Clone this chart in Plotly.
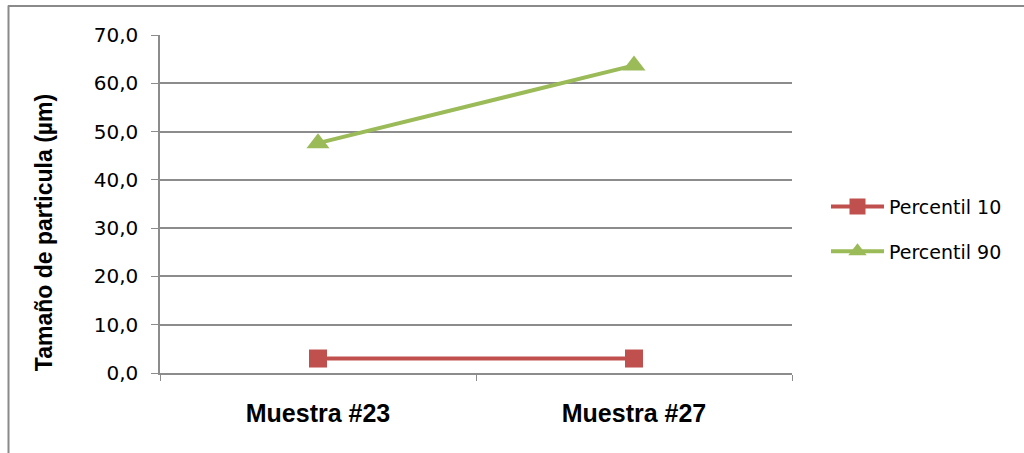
import plotly.graph_objects as go

# data
muestras = ["Muestra #23", "Muestra #27"]
percentil_10 = [3.0, 3.0]
percentil_90 = [47.6, 63.7]

y_ticks = [0, 10, 20, 30, 40, 50, 60, 70]

red = "#C0504D"
green = "#9BBB59"
grid = "#8c8c8c"

fig = go.Figure()
fig.add_trace(go.Scatter(
    x=muestras, y=percentil_10, name="Percentil 10", mode="lines+markers",
    legendgroup="p10",
    line=dict(color=red, width=4),
    marker=dict(symbol="square", size=18, color=red)
))
fig.add_trace(go.Scatter(
    x=muestras, y=percentil_90, name="Percentil 90", mode="lines+markers",
    legendgroup="p90",
    line=dict(color=green, width=4),
    marker=dict(symbol="triangle-up", size=20, color=green)
))

# page pixel -> paper coords (plot area is 160..792 x 34.5..373)
px2x = lambda px: (px - 160) / 632
py2y = lambda py: (373 - py) / 338.5

# outer chart border (top and left only visible in the reference)
fig.add_shape(type="line", xref="paper", yref="paper",
              x0=px2x(8), x1=px2x(1030), y0=py2y(5.5), y1=py2y(5.5),
              line=dict(color="#8a8a8a", width=2))
fig.add_shape(type="line", xref="paper", yref="paper",
              x0=px2x(8.5), x1=px2x(8.5), y0=py2y(5), y1=py2y(460),
              line=dict(color="#8a8a8a", width=2))

fig.add_annotation(
    text="<b>Tamaño de particula (µm)</b>", textangle=-90,
    xref="paper", yref="paper", x=px2x(44), y=py2y(233),
    xanchor="center", yanchor="middle",
    showarrow=False, font=dict(family="Liberation Sans, Arial", size=23, color="black")
)

fig.update_layout(
    width=1024, height=453,
    margin=dict(l=160, r=232, t=34.5, b=80),
    paper_bgcolor="white", plot_bgcolor="white",
    separators=",.",
    showlegend=True,
    legend=dict(
        x=px2x(826), y=py2y(229), xanchor="left", yanchor="middle",
        font=dict(family="DejaVu Sans", size=19, color="black"),
        itemwidth=53, traceorder="grouped", tracegroupgap=17
    ),
    xaxis=dict(
        type="category", range=[-0.5, 1.5], tickson="boundaries",
        ticks="outside", ticklen=6, tickcolor=grid,
        showline=True, linecolor=grid, linewidth=1.5,
        showgrid=False, zeroline=False,
        tickfont=dict(family="Liberation Sans, Arial", size=25, color="black"),
        ticktext=["<b>" + m + "</b>" for m in muestras], tickvals=muestras,
        ticklabelstandoff=17
    ),
    yaxis=dict(
        range=[0, 70], tickvals=y_ticks, tickformat=".1f",
        ticks="outside", ticklen=7, tickcolor=grid,
        showline=True, linecolor=grid, linewidth=1.5,
        showgrid=True, gridcolor=grid, gridwidth=1.5, zeroline=False,
        tickfont=dict(family="DejaVu Sans", size=20, color="black"),
        ticklabelstandoff=9
    ),
)

fig.write_html("out.html", config={"displayModeBar": False},
               post_script="document.body.style.margin='0px';")
